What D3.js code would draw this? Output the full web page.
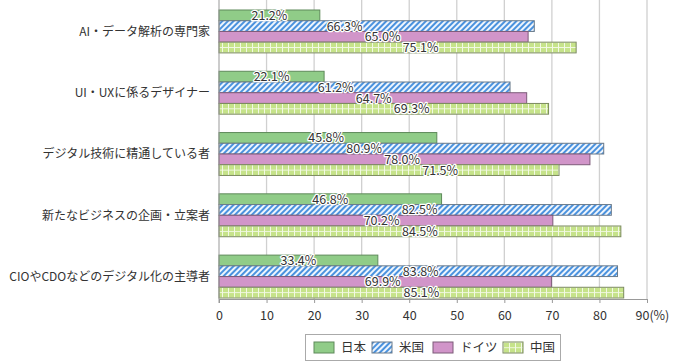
<!DOCTYPE html>
<html>
<head>
<meta charset="utf-8">
<script src="https://cdn.jsdelivr.net/npm/d3@7"></script>
<style>
  body { margin: 0; background: #fff; }
  svg text { font-family: "Noto Sans CJK JP", "Noto Sans", sans-serif; fill: #333; }
</style>
</head>
<body>
<div class="container"></div>
<script>
// data
const categories = [
  "AI・データ解析の専門家",
  "UI・UXに係るデザイナー",
  "デジタル技術に精通している者",
  "新たなビジネスの企画・立案者",
  "CIOやCDOなどのデジタル化の主導者"
];
const seriesNames = ["日本", "米国", "ドイツ", "中国"];
const japan   = [21.2, 22.1, 45.8, 46.8, 33.4];
const usa     = [66.3, 61.2, 80.9, 82.5, 83.8];
const germany = [65.0, 64.7, 78.0, 70.2, 69.9];
const china   = [75.1, 69.3, 71.5, 84.5, 85.1];
const ticks = [0, 10, 20, 30, 40, 50, 60, 70, 80, 90];

const values = [japan, usa, germany, china];

const W = 677, H = 363;
const svg = d3.select(".container").append("svg")
  .attr("width", W).attr("height", H);

const defs = svg.append("defs");
// US: diagonal stripes
const pUs = defs.append("pattern").attr("id", "pat-us")
  .attr("patternUnits", "userSpaceOnUse")
  .attr("width", 4).attr("height", 4)
  .attr("patternTransform", "rotate(45)");
pUs.append("rect").attr("width", 4).attr("height", 4).attr("fill", "#eef5fd");
pUs.append("rect").attr("width", 2).attr("height", 4).attr("fill", "#4a92de");
// China: light green with white grid
const pCn = defs.append("pattern").attr("id", "pat-cn")
  .attr("patternUnits", "userSpaceOnUse")
  .attr("width", 6).attr("height", 5.3);
pCn.append("rect").attr("width", 6).attr("height", 5.3).attr("fill", "#c6e38a");
pCn.append("rect").attr("x", 0).attr("width", 1).attr("height", 5.3).attr("fill", "#f2f9e4");
pCn.append("rect").attr("y", 0).attr("width", 6).attr("height", 0.9).attr("fill", "#f2f9e4");

const fills = ["#90cc88", "url(#pat-us)", "#d195c9", "url(#pat-cn)"];
const strokes = ["#5e8a5a", "#6a7a8a", "#7d5b79", "#7a8a5c"];

const x = d3.scaleLinear().domain([0, 90]).range([219, 647]);
const y = d3.scaleBand().domain(categories).range([10, 298]).paddingInner(0.3);
const ySub = d3.scaleBand().domain(seriesNames).range([0, y.bandwidth()]);

const plotTop = 0, plotBottom = 299;

// gridlines
svg.append("g").selectAll("line").data(ticks.slice(1)).join("line")
  .attr("x1", d => x(d)).attr("x2", d => x(d))
  .attr("y1", plotTop).attr("y2", plotBottom)
  .attr("stroke", "#d0d0d0").attr("stroke-width", 1.3);

// bars
const groups = svg.append("g").selectAll("g").data(categories).join("g")
  .attr("transform", d => `translate(0,${y(d)})`);

groups.each(function(cat, ci) {
  const g = d3.select(this);
  seriesNames.forEach((s, si) => {
    g.append("rect")
      .attr("x", x(0))
      .attr("y", ySub(s))
      .attr("width", x(values[si][ci]) - x(0))
      .attr("height", ySub.bandwidth())
      .attr("fill", fills[si])
      .attr("stroke", strokes[si])
      .attr("stroke-width", 1);
  });
});

// value labels: start at bar middle, then spread neighbours sideways so they don't collide
const labelGap = 38;
let labelX = (ci) => {
  let pos = values.map(v => x(v[ci] / 2));
  let dir = [];
  for (let i = 0; i < pos.length - 1; i++) {
    let diff = pos[i + 1] - pos[i];
    dir.push(Math.abs(diff) < 25 ? 1 : Math.sign(diff) || 1);
  }
  for (let it = 0; it < 60; it++) {
    for (let i = 0; i < pos.length - 1; i++) {
      let d = dir[i] * (pos[i + 1] - pos[i]);
      if (d < labelGap) {
        let sh = (labelGap - d) / 2;
        pos[i] -= dir[i] * sh;
        pos[i + 1] += dir[i] * sh;
      }
    }
  }
  return pos;
};

groups.each(function(cat, ci) {
  const g = d3.select(this);
  const pos = labelX(ci);
  seriesNames.forEach((s, si) => {
    const v = values[si][ci];
    g.append("text")
      .attr("x", pos[si])
      .attr("y", ySub(s) + ySub.bandwidth() / 2)
      .attr("dy", "0.36em")
      .attr("text-anchor", "middle")
      .attr("font-size", 12.5)
      .attr("stroke", "#fff").attr("stroke-width", 2.5)
      .attr("stroke-linejoin", "round")
      .attr("paint-order", "stroke")
      .text(v.toFixed(1) + "%");
  });
});

// left axis line
svg.append("line")
  .attr("x1", x(0)).attr("x2", x(0))
  .attr("y1", plotTop).attr("y2", plotBottom + 4)
  .attr("stroke", "#999");

// category labels
svg.append("g").selectAll("text").data(categories).join("text")
  .attr("x", 210)
  .attr("y", d => y(d) + y.bandwidth() / 2)
  .attr("dy", "0.36em")
  .attr("text-anchor", "end")
  .attr("font-size", 12)
  .text(d => d);

// bottom axis
const xAxis = svg.append("g")
  .attr("transform", `translate(0,${plotBottom})`)
  .call(d3.axisBottom(x).tickValues(ticks).tickSize(4).tickSizeOuter(0)
    .tickFormat(d => d === 90 ? "90(%)" : d));
xAxis.select(".domain").attr("stroke", "#999");
xAxis.selectAll(".tick line").attr("stroke", "#999");
xAxis.selectAll(".tick text")
  .attr("font-size", 12.5)
  .attr("y", 12)
  .style("fill", "#333")
  .attr("font-family", "\"Noto Sans CJK JP\", sans-serif");
xAxis.selectAll(".tick").filter(d => d === 90).select("text")
  .attr("text-anchor", "start").attr("x", -12);

// legend
const legend = svg.append("g");
legend.append("rect")
  .attr("x", 305.5).attr("y", 334.5).attr("width", 255).attr("height", 26)
  .attr("fill", "#fff").attr("stroke", "#aaa");
const legendX = [314, 372, 433, 503];
const li = legend.selectAll("g").data(seriesNames).join("g")
  .attr("transform", (d, i) => `translate(${legendX[i]},342)`);
li.append("rect")
  .attr("width", 20).attr("height", 11)
  .attr("fill", (d, i) => fills[i])
  .attr("stroke", (d, i) => strokes[i]);
li.append("text")
  .attr("x", 27).attr("y", 5.5).attr("dy", "0.36em")
  .attr("font-size", 12.5)
  .text(d => d);
</script>
</body>
</html>
